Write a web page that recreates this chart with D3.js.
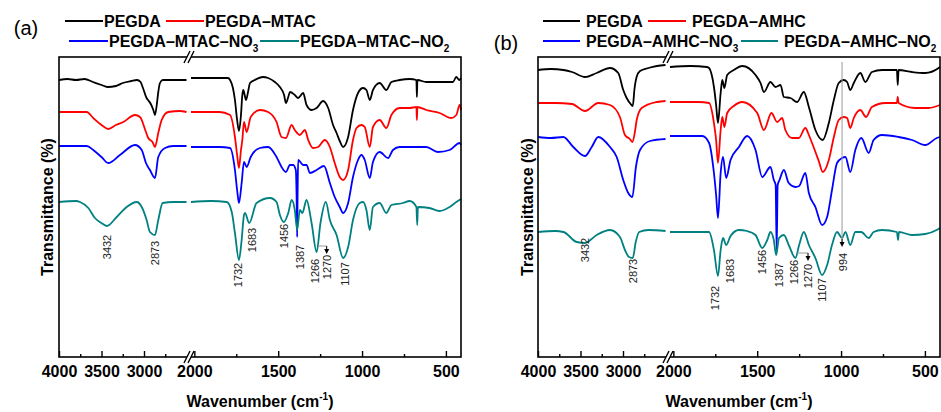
<!DOCTYPE html>
<html>
<head>
<meta charset="utf-8">
<script src="https://cdn.jsdelivr.net/npm/d3@7"></script>
<style>
  body { margin: 0; background: #fff; }
  text { font-family: Arial, "Liberation Sans", sans-serif; }
</style>
</head>
<body>
<svg id="chart" width="941" height="412"></svg>
<script>
/*
 *  FTIR spectra, two panels with a broken wavenumber axis
 */

// series names (base text, subscript)
var namesA = [["PEGDA", ""], ["PEGDA\u2013MTAC", ""], ["PEGDA\u2013MTAC\u2013NO", "3"], ["PEGDA\u2013MTAC\u2013NO", "2"]];
var namesB = [["PEGDA", ""], ["PEGDA\u2013AMHC", ""], ["PEGDA\u2013AMHC\u2013NO", "3"], ["PEGDA\u2013AMHC\u2013NO", "2"]];
var colors = ["#000000", "#ff0000", "#0000ff", "#008080"];

// tick values of the two axis segments
var majorHigh = [4000, 3500, 3000], minorHigh = [3750, 3250, 2750];
var majorLow = [2000, 1500, 1000, 500], minorLow = [1750, 1250, 750];

// spectra: [wavenumber, transmittance (arbitrary offset units)]
var pegdaA = [[4000,277],[3900,278],[3800,277],[3700,278],[3600,275],[3500,272],[3430,270],[3330,271],[3250,274],[3150,276],[3083,277],[3040,275],[3012,269],[2970,259],[2953,257],[2920,253],[2890,247],[2871,242],[2850,252],[2832,265],[2812,274],[2780,277],[2700,277],[2600,277],[2500,277],
  [2020,279],[1900,279],[1800,279],[1787,277],[1770,269],[1758,257],[1745,237],[1734,226],[1722,242],[1714,262],[1708,267],[1700,262],[1692,257],[1680,265],[1668,274],[1640,277],[1591,280],[1560,279],[1520,275],[1490,270],[1465,262],[1454,254],[1440,260],[1430,265],[1401,262],[1381,259],[1351,264],[1331,252],[1301,247],[1271,249],[1232,256],[1202,249],[1173,232],[1152,224],[1133,216],[1113,210],[1083,220],[1054,247],[1024,264],[994,269],[974,267],[954,257],[935,267],[895,274],[855,267],[825,275],[776,277],[716,278],[676,277],[673,260],[670,277],[617,275],[538,275],[458,275],[438,280],[420,277],[410,279]];
var mtacA = [[4000,245],[3800,245],[3674,245],[3597,239],[3500,232],[3420,228],[3330,232],[3244,235],[3106,242],[3047,240],[2977,225],[2950,219],[2900,215],[2871,210],[2832,224],[2792,237],[2715,245],[2577,246],[2500,245],
  [2020,245],[1850,245],[1787,242],[1758,220],[1745,202],[1734,189],[1722,207],[1714,217],[1704,235],[1688,225],[1664,240],[1609,247],[1560,245],[1510,235],[1480,220],[1454,219],[1420,232],[1401,227],[1371,222],[1341,227],[1321,217],[1292,209],[1262,210],[1222,217],[1192,210],[1163,194],[1133,180],[1113,177],[1083,187],[1054,217],[1033,229],[1004,232],[984,230],[954,210],[935,230],[895,237],[855,229],[825,242],[776,249],[716,249],[676,250],[673,237],[670,250],[617,247],[538,244],[468,239],[438,242],[418,252],[410,247]];
var mtacNO3A = [[4000,211],[3800,211],[3674,211],[3597,207],[3500,200],[3420,194],[3283,202],[3106,212],[3027,207],[2977,194],[2930,187],[2871,179],[2832,200],[2753,209],[2656,211],[2500,211],
  [2020,210],[1850,210],[1787,209],[1758,187],[1745,167],[1734,154],[1718,174],[1704,195],[1688,190],[1664,200],[1609,209],[1560,210],[1510,200],[1480,190],[1454,185],[1430,192],[1411,192],[1395,187],[1390,157],[1387,120],[1384,167],[1381,197],[1351,192],[1331,192],[1311,184],[1271,187],[1227,191],[1192,174],[1163,160],[1133,150],[1113,144],[1083,154],[1054,180],[1024,197],[1004,202],[984,197],[954,179],[935,195],[895,205],[845,199],[816,207],[776,210],[696,210],[617,210],[548,205],[478,207],[418,214],[410,212]];
var mtacNO2A = [[4000,155],[3800,156],[3753,155],[3655,149],[3577,139],[3500,134],[3439,131],[3321,140],[3204,150],[3086,155],[3027,150],[2969,137],[2930,125],[2871,122],[2832,137],[2780,154],[2656,155],[2500,155],
  [2020,155],[1900,156],[1807,155],[1777,145],[1758,124],[1734,97],[1718,117],[1704,142],[1698,144],[1673,134],[1629,154],[1549,159],[1510,155],[1490,142],[1466,135],[1440,144],[1420,157],[1401,147],[1387,127],[1371,147],[1356,144],[1331,157],[1301,134],[1271,105],[1248,134],[1216,155],[1192,137],[1152,122],[1113,99],[1083,110],[1054,137],[1014,154],[994,155],[974,147],[954,127],[935,150],[895,154],[855,144],[825,152],[756,154],[716,156],[676,150],[671,132],[667,150],[599,149],[538,146],[478,150],[438,155],[410,158]];

var pegdaB = [[4000,287],[3850,288],[3700,287],[3600,285],[3447,280],[3310,284],[3153,289],[3056,284],[2997,267],[2957,259],[2910,253],[2885,251],[2865,268],[2840,280],[2800,286],[2700,289],[2600,291],[2500,292],
  [2020,290],[1900,291],[1800,290],[1787,289],[1758,270],[1745,252],[1734,234],[1718,264],[1708,277],[1696,269],[1679,282],[1640,287],[1589,291],[1510,282],[1480,274],[1460,265],[1421,275],[1391,270],[1361,272],[1341,260],[1302,259],[1262,255],[1222,265],[1192,250],[1153,227],[1109,217],[1073,234],[1043,257],[1014,274],[984,277],[964,275],[945,267],[924,274],[885,284],[855,275],[816,285],[756,287],[667,287],[662,272],[657,287],[577,285],[498,284],[418,289],[410,290]];
var amhcB = [[4000,254],[3800,254],[3600,253],[3447,246],[3291,254],[3153,252],[3036,240],[2977,222],[2920,218],[2890,215],[2860,225],[2839,237],[2780,249],[2600,255],[2500,256],
  [2020,255],[1850,255],[1787,254],[1758,234],[1745,217],[1734,194],[1718,227],[1708,240],[1696,230],[1679,244],[1640,251],[1589,255],[1500,244],[1460,227],[1415,244],[1381,235],[1351,239],[1332,227],[1292,219],[1252,219],[1213,229],[1192,222],[1173,214],[1133,196],[1109,185],[1073,197],[1043,220],[1014,237],[984,240],[964,239],[945,229],[924,239],[885,247],[851,240],[816,250],[736,254],[667,254],[662,260],[657,254],[558,249],[478,249],[410,252]];
var amhcNO3B = [[4000,220],[3850,219],[3702,220],[3585,210],[3447,201],[3368,210],[3291,220],[3153,210],[3074,200],[2997,177],[2938,164],[2890,160],[2848,190],[2800,207],[2683,216],[2500,218],
  [2020,221],[1827,221],[1787,214],[1758,184],[1745,162],[1734,139],[1718,184],[1704,200],[1685,179],[1659,197],[1609,210],[1560,221],[1510,207],[1470,180],[1421,190],[1401,177],[1390,172],[1384,107],[1378,172],[1367,177],[1341,187],[1312,174],[1272,170],[1250,171],[1213,184],[1192,164],[1153,150],[1113,132],[1083,140],[1054,167],[1024,194],[994,199],[974,200],[945,185],[915,207],[879,219],[835,204],[806,217],[756,222],[657,220],[577,217],[498,212],[429,219],[410,220]];
var amhcNO2B = [[4000,125],[3800,126],[3700,125],[3545,115],[3447,114],[3310,122],[3153,127],[3036,120],[2977,107],[2930,100],[2885,99],[2850,115],[2810,125],[2700,127],[2500,126],
  [2020,125],[1850,125],[1787,125],[1758,107],[1734,81],[1718,107],[1704,119],[1685,112],[1659,121],[1609,127],[1560,126],[1510,122],[1470,109],[1440,117],[1421,125],[1401,117],[1387,102],[1370,119],[1341,122],[1312,112],[1272,99],[1250,112],[1222,125],[1192,112],[1153,99],[1113,82],[1083,92],[1054,112],[1024,125],[994,119],[974,125],[945,112],[915,125],[880,125],[835,119],[806,125],[756,127],[667,125],[660,117],[655,125],[577,122],[498,123],[430,127],[410,129]];

// peak labels: [text, wavenumber position, label centre]
var peaksA = [["3432",3435,110],["2873",2871,104],["1732",1740,82],["1683",1658,117],["1456",1465,121],["1387",1370,100],["1266",1281,86],["1270",1211,90],["1107",1102,83]];
var peaksB = [["3432",3447,107],["2873",2883,86],["1732",1752,59],["1683",1662,86],["1456",1471,95],["1387",1370,82],["1266",1281,85],["1270",1197,81],["1107",1114,67],["994",988,95]];

var panels = [
  { left: 59, tag: "(a)", tagPos: [26, 35], names: namesA, data: [pegdaA, mtacA, mtacNO3A, mtacNO2A], peaks: peaksA,
    legend: [[65, 103, 104, 21], [166, 204, 205, 21], [69, 108, 109, 41], [260, 299, 300, 41]],
    ytitle: 47 },
  { left: 538, tag: "(b)", tagPos: [506, 50], names: namesB, data: [pegdaB, amhcB, amhcNO3B, amhcNO2B], peaks: peaksB,
    legend: [[543, 580, 586, 21], [648, 686, 692, 21], [543, 580, 586, 41], [741, 778, 784, 41]],
    ytitle: 527 }
];

var top0 = 57, bottom0 = 357, pw = 402;
var svg = d3.select("#chart");

var y = d3.scaleLinear().domain([0, 300]).range([bottom0, top0]);

panels.forEach(function(p, pi) {
  var g = svg.append("g");
  var xHigh = d3.scaleLinear().domain([4000, 2500]).range([p.left, p.left + 127.5]);
  var xLow = d3.scaleLinear().domain([2020, 410]).range([p.left + 132, p.left + pw]);
  var xAny = function(w) { return w >= 2250 ? xHigh(w) : xLow(w); };

  // spectra
  p.data.forEach(function(s, i) {
    var hi = s.filter(function(d) { return d[0] >= 2500; });
    var lo = s.filter(function(d) { return d[0] <= 2020; });
    [[hi, xHigh], [lo, xLow]].forEach(function(seg) {
      var line = d3.line().curve(d3.curveMonotoneX)
        .x(function(d) { return seg[1](d[0]); })
        .y(function(d) { return y(d[1]); });
      g.append("path").datum(seg[0])
        .attr("d", line)
        .attr("fill", "none")
        .attr("stroke", colors[i])
        .attr("stroke-width", 1.8)
        .attr("stroke-linejoin", "round");
    });
  });

  // frame
  g.append("rect")
    .attr("x", p.left).attr("y", top0)
    .attr("width", pw).attr("height", bottom0 - top0)
    .attr("fill", "none").attr("stroke", "#000").attr("stroke-width", 1.6);

  // axes, ticks pointing inwards
  function addAxis(scale, major, minor) {
    var ax = g.append("g").attr("transform", "translate(0," + bottom0 + ")")
      .call(d3.axisBottom(scale).tickValues(major).tickSize(-6).tickPadding(9).tickFormat(d3.format("d")));
    ax.select(".domain").remove();
    ax.selectAll("line").attr("stroke-width", 1.4);
    ax.selectAll("text").attr("font-size", 16).attr("font-weight", "bold").attr("fill", "#000")
      .attr("font-family", "Arial, 'Liberation Sans', sans-serif");
    var mn = g.append("g").attr("transform", "translate(0," + bottom0 + ")")
      .call(d3.axisBottom(scale).tickValues(minor).tickSize(-3).tickFormat(""));
    mn.select(".domain").remove();
    mn.selectAll("line").attr("stroke-width", 1.4);
  }
  addAxis(xHigh, majorHigh, minorHigh);
  addAxis(xLow, majorLow, minorLow);

  // break marks
  var bx = p.left + 130;
  [top0, bottom0].forEach(function(yy) {
    g.append("polygon")
      .attr("points", [[bx - 5, yy + 6], [bx + 1, yy - 6], [bx + 5, yy - 6], [bx - 1, yy + 6]].join(" "))
      .attr("fill", "#fff");
    [-4, 0].forEach(function(o) {
      g.append("line")
        .attr("x1", bx + o - 1).attr("y1", yy + 6)
        .attr("x2", bx + o + 5).attr("y2", yy - 6)
        .attr("stroke", "#000").attr("stroke-width", 1.4);
    });
  });

  // axis titles
  var xt = g.append("text")
    .attr("x", p.left + 201).attr("y", 407)
    .attr("text-anchor", "middle").attr("font-size", 16).attr("font-weight", "bold")
    .text("Wavenumber (cm");
  xt.append("tspan").attr("font-size", 10).attr("dy", -7).text("-1");
  xt.append("tspan").attr("dy", 7).text(")");

  g.append("text")
    .attr("transform", "translate(" + p.ytitle + "," + 207 + ") rotate(-90)")
    .attr("text-anchor", "middle").attr("dominant-baseline", "central")
    .attr("font-size", 16).attr("font-weight", "bold")
    .text("Transmittance (%)");

  // panel tag
  g.append("text")
    .attr("x", p.tagPos[0]).attr("y", p.tagPos[1])
    .attr("text-anchor", "middle").attr("font-size", 20)
    .text(p.tag);

  // legend
  p.names.forEach(function(n, i) {
    var L = p.legend[i];
    g.append("line")
      .attr("x1", L[0]).attr("x2", L[1]).attr("y1", L[3]).attr("y2", L[3])
      .attr("stroke", colors[i]).attr("stroke-width", 2);
    var t = g.append("text")
      .attr("x", L[2]).attr("y", L[3] + 6)
      .attr("font-size", 16).attr("font-weight", "bold")
      .text(n[0]);
    if (n[1]) t.append("tspan").attr("font-size", 10).attr("dy", 5).text(n[1]);
  });

  // peak labels
  p.peaks.forEach(function(pk) {
    g.append("text")
      .attr("transform", "translate(" + xAny(pk[1]) + "," + y(pk[2]) + ") rotate(-90)")
      .attr("text-anchor", "middle").attr("dominant-baseline", "central")
      .attr("font-size", 11).attr("fill", "#222")
      .text(pk[0]);
  });
});

// guide marks for the 1270 and 994 labels
var gA = svg.append("g");
function arrowDown(x0, y0, y1) {
  gA.append("line").attr("x1", x0).attr("x2", x0).attr("y1", y0).attr("y2", y1 - 4)
    .attr("stroke", "#000").attr("stroke-width", 1);
  gA.append("polygon").attr("points", [[x0 - 2.5, y1 - 5], [x0 + 2.5, y1 - 5], [x0, y1]].join(" ")).attr("fill", "#000");
}
var xLowA = d3.scaleLinear().domain([2020, 410]).range([59 + 132, 59 + pw]);
var xLowB = d3.scaleLinear().domain([2020, 410]).range([538 + 132, 538 + pw]);
gA.append("line").attr("x1", xLowA(1262)).attr("x2", xLowA(1211)).attr("y1", y(111)).attr("y2", y(111))
  .attr("stroke", "#999").attr("stroke-width", 1);
arrowDown(xLowA(1211), y(111), y(103));
gA.append("line").attr("x1", xLowB(1262)).attr("x2", xLowB(1197)).attr("y1", y(104)).attr("y2", y(104))
  .attr("stroke", "#999").attr("stroke-width", 1);
arrowDown(xLowB(1197), y(104), y(96));
gA.append("line").attr("x1", xLowB(994)).attr("x2", xLowB(994)).attr("y1", y(295)).attr("y2", y(115))
  .attr("stroke", "#999").attr("stroke-width", 1);
arrowDown(xLowB(994), y(118), y(110));
</script>
</body>
</html>
